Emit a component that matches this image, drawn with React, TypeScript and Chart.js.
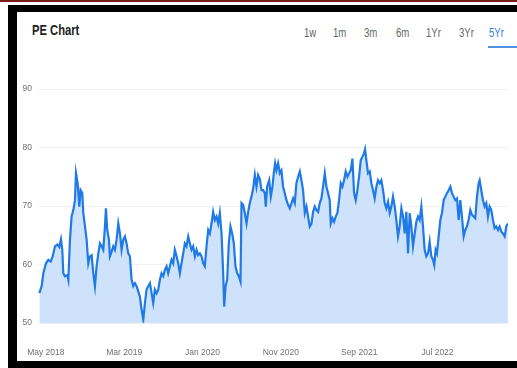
import React, { useEffect, useRef } from "react";
import { Chart, registerables } from "chart.js";

Chart.register(...registerables);

// months since Apr 2018
const months = [
  0.17, 0.47, 0.68, 1.02, 1.32, 1.62, 1.87, 2.17, 2.47, 2.72, 2.93, 3.1, 3.23, 3.44, 3.74, 3.87,
  4.08, 4.29, 4.51, 4.72, 4.85, 5.06, 5.27, 5.44, 5.65, 5.78, 6.0, 6.21, 6.42, 6.63, 6.85, 7.06,
  7.27, 7.48, 7.7, 7.91, 8.12, 8.33, 8.55, 8.67, 8.84, 9.06, 9.18, 9.4, 9.61, 9.82, 10.03, 10.25,
  10.46, 10.67, 10.88, 11.1, 11.31, 11.52, 11.73, 11.95, 12.16, 12.37, 12.59, 12.8, 13.01, 13.22,
  13.44, 13.65, 13.86, 14.07, 14.29, 14.5, 14.71, 14.92, 15.14, 15.35, 15.56, 15.77, 15.99, 16.2,
  16.41, 16.62, 16.84, 17.05, 17.26, 17.47, 17.69, 17.9, 18.11, 18.32, 18.54, 18.75, 18.96, 19.18,
  19.39, 19.6, 19.81, 20.03, 20.24, 20.45, 20.66, 20.88, 21.09, 21.3, 21.51, 21.73, 21.94, 22.15,
  22.36, 22.58, 22.79, 23.0, 23.21, 23.43, 23.64, 23.77, 23.94, 24.15, 24.36, 24.57, 24.79, 25.0,
  25.21, 25.43, 25.64, 25.85, 25.98, 26.19, 26.4, 26.62, 26.83, 27.04, 27.25, 27.47, 27.68, 27.89,
  28.1, 28.32, 28.53, 28.74, 28.95, 29.08, 29.25, 29.51, 29.72, 29.93, 30.1, 30.27, 30.44, 30.65,
  30.87, 31.08, 31.29, 31.5, 31.72, 31.93, 32.14, 32.36, 32.57, 32.78, 32.99, 33.21, 33.42, 33.63,
  33.84, 34.06, 34.27, 34.48, 34.69, 34.91, 35.12, 35.33, 35.54, 35.76, 35.97, 36.18, 36.39, 36.61,
  36.82, 37.03, 37.24, 37.37, 37.59, 37.8, 38.01, 38.22, 38.43, 38.65, 38.86, 39.07, 39.28, 39.5,
  39.71, 39.92, 40.14, 40.35, 40.56, 40.77, 40.99, 41.2, 41.41, 41.62, 41.75, 41.92, 42.13, 42.35,
  42.56, 42.77, 42.98, 43.2, 43.41, 43.62, 43.83, 44.05, 44.26, 44.47, 44.69, 44.9, 45.11, 45.32,
  45.54, 45.75, 45.96, 46.17, 46.39, 46.6, 46.81, 47.02, 47.24, 47.45, 47.66, 47.87, 48.09, 48.3,
  48.51, 48.72, 48.94, 49.15, 49.36, 49.57, 49.79, 50.0, 50.21, 50.42, 50.59, 50.76, 50.93, 51.15,
  51.36, 51.57, 51.79, 52.0, 52.21, 52.42, 52.64, 52.85, 53.06, 53.27, 53.49, 53.7, 53.91, 54.12,
  54.34, 54.55, 54.76, 54.97, 55.19, 55.4, 55.61, 55.82, 56.04, 56.25, 56.38, 56.59, 56.8, 57.02,
  57.23, 57.44, 57.65, 57.87, 58.08, 58.29, 58.5, 58.72, 58.93, 59.14, 59.35, 59.57, 59.78, 59.99,
];

const peValues = [
  55.1, 56.3, 58.5, 60.2, 60.8, 60.5, 61.4, 63.1, 63.4, 63.0, 64.3, 62.5, 58.5, 58.0, 58.2, 57.4,
  64.2, 68.2, 69.3, 71.0, 75.6, 73.9, 69.9, 72.7, 72.2, 68.8, 66.5, 64.2, 60.2, 61.4, 61.6, 58.5,
  56.3, 59.7, 61.9, 63.6, 63.1, 62.5, 66.5, 69.6, 65.9, 64.2, 61.4, 62.2, 63.1, 62.5, 64.2, 67.0,
  65.3, 62.5, 64.2, 64.8, 63.6, 61.9, 61.4, 57.4, 56.3, 56.8, 56.3, 55.4, 54.5, 52.3,
  50.6, 53.4, 55.7, 56.3, 56.8, 55.1, 53.4, 55.7, 55.1, 55.7, 57.4, 58.5, 58.0, 59.1,
  59.7, 58.5, 59.7, 60.8, 60.2, 62.5, 61.4, 60.2, 58.5, 60.2, 61.9, 63.6, 63.1, 64.8,
  63.6, 62.5, 63.1, 61.4, 62.5, 61.6, 61.9, 61.4, 60.2, 59.7, 63.1, 65.9, 65.3, 67.0,
  69.0, 67.6, 68.2, 67.0, 68.8, 65.3, 58.5, 52.8, 56.3, 57.4, 63.6, 66.5, 65.3, 63.6,
  59.7, 58.5, 58.0, 57.1, 70.5, 70.2, 68.8, 67.0, 69.0, 70.5, 71.6, 73.0, 75.3, 73.3,
  75.3, 74.6, 72.7, 72.7, 72.2, 69.9, 73.3, 74.4, 71.6, 73.3, 75.6, 77.3, 76.1, 77.3,
  75.6, 76.1, 73.3, 72.2, 71.0, 70.2, 69.6, 70.5, 71.3, 70.5, 73.9, 75.0, 75.9, 74.4,
  72.7, 68.8, 69.9, 68.2, 66.5, 67.0, 69.0, 69.9, 69.3, 69.0, 70.5, 71.3, 73.3, 75.6,
  73.3, 72.2, 71.0, 67.0, 67.9, 67.3, 68.2, 68.8, 71.0, 73.9, 73.3, 74.4, 75.9, 75.0,
  75.6, 76.1, 78.1, 72.2, 71.0, 72.7, 75.0, 77.8, 78.4, 79.0, 79.7, 77.8, 75.6, 75.9,
  73.9, 72.7, 71.3, 73.3, 74.4, 73.9, 74.4, 72.7, 70.5, 69.6, 70.7, 68.8, 69.9, 71.6,
  69.9, 67.6, 64.8, 66.5, 69.6, 68.2, 65.3, 69.0, 61.9, 68.8, 66.5, 63.1, 65.3, 67.3,
  68.2, 67.6, 69.9, 66.5, 62.5, 61.4, 61.9, 63.9, 61.4, 60.8, 59.9, 62.5, 61.9, 64.8,
  67.6, 68.8, 71.0, 71.6, 72.2, 72.7, 73.3, 72.2, 71.6, 71.0, 71.3, 67.6, 71.0, 68.2,
  64.8, 65.9, 66.5, 67.6, 69.3, 68.5, 68.2, 67.9, 71.6, 73.9, 74.4, 72.7, 71.0, 69.9,
  70.5, 68.2, 69.9, 69.3, 67.6, 66.2, 66.5, 65.9, 66.5, 65.6, 65.3, 64.8, 66.5, 67.0,
];

const tickMonths = [1, 11, 21, 31, 41, 51];
const tickLabels = ["May 2018", "Mar 2019", "Jan 2020", "Nov 2020", "Sep 2021", "Jul 2022"];
const yTicks = [50, 60, 70, 80, 90];
const tabs = ["1w", "1m", "3m", "6m", "1Yr", "3Yr", "5Yr"];
const tabLeft = [304, 333, 364, 396, 426, 459, 489];

const FONT = "'Liberation Sans', Arial, sans-serif";

export default function App() {
  const ref = useRef<HTMLCanvasElement | null>(null);

  useEffect(() => {
    if (!ref.current) return;
    const points = months.map((m, i) => ({ x: m, y: peValues[i] }));
    const chart = new Chart(ref.current, {
      type: "line",
      data: {
        datasets: [
          {
            data: points,
            borderColor: "#1f7ae6",
            backgroundColor: "#cfe2fc",
            borderWidth: 2.2,
            pointRadius: 0,
            fill: "start",
            tension: 0,
          },
        ],
      },
      options: {
        animation: false,
        responsive: false,
        maintainAspectRatio: false,
        layout: { padding: { left: 0, right: 9, top: 29, bottom: 0 } },
        plugins: { legend: { display: false }, tooltip: { enabled: false } },
        scales: {
          x: {
            type: "linear",
            min: 0,
            max: 60,
            grid: { display: false },
            border: { display: false },
            afterBuildTicks: (scale: any) => {
              scale.ticks = tickMonths.map((v) => ({ value: v }));
            },
            afterFit: (scale: any) => {
              scale.height = 38;
              scale.paddingLeft = 0;
              scale.paddingRight = 0;
            },
            ticks: {
              autoSkip: false,
              maxRotation: 0,
              padding: 17,
              color: "#707070",
              font: { family: FONT, size: 8.5 },
              callback: (v: any) => {
                const i = tickMonths.indexOf(Number(v));
                return i >= 0 ? tickLabels[i] : "";
              },
            },
          },
          y: {
            min: 50,
            max: 90,
            afterBuildTicks: (scale: any) => {
              scale.ticks = yTicks.map((v) => ({ value: v }));
            },
            afterFit: (scale: any) => {
              scale.width = 21;
            },
            grid: { color: "#f0f0f0", drawTicks: false, lineWidth: 1 },
            border: { display: false },
            ticks: {
              padding: 6,
              color: "#707070",
              font: { family: FONT, size: 8.5 },
            },
          },
        },
      },
    });
    return () => chart.destroy();
  }, []);

  return (
    <div
      style={{
        position: "absolute",
        left: 0,
        top: 0,
        width: 517,
        height: 368,
        background: "#fff",
        overflow: "hidden",
        fontFamily: FONT,
      }}
    >
      <div style={{ position: "absolute", left: 0, top: 0, width: 517, height: 2, background: "#7a1d1d" }} />
      <div style={{ position: "absolute", left: 8, top: 5, width: 509, height: 7, background: "#000" }} />
      <div style={{ position: "absolute", left: 8, top: 5, width: 9, height: 363, background: "#000" }} />
      <div style={{ position: "absolute", left: 8, top: 361, width: 509, height: 7, background: "#000" }} />
      <div
        style={{
          position: "absolute",
          left: 32,
          top: 21,
          fontSize: 14,
          lineHeight: "18px",
          fontWeight: 600,
          color: "#222",
          transform: "scaleX(0.8)",
          transformOrigin: "left center",
          whiteSpace: "nowrap",
        }}
      >
        PE Chart
      </div>
      {tabs.map((t, i) => (
        <div
          key={t}
          style={{
            position: "absolute",
            left: tabLeft[i],
            top: 25,
            fontSize: 12,
            lineHeight: "16px",
            color: i === tabs.length - 1 ? "#2f7fe0" : "#666",
            transform: "scaleX(0.8)",
            transformOrigin: "left center",
            whiteSpace: "nowrap",
          }}
        >
          {t}
        </div>
      ))}
      <div style={{ position: "absolute", left: 488, top: 46, width: 29, height: 2, background: "#4f91e2" }} />
      <canvas
        ref={ref}
        width={500}
        height={301}
        style={{ position: "absolute", left: 17, top: 60, width: 500, height: 301 }}
      />
    </div>
  );
}
